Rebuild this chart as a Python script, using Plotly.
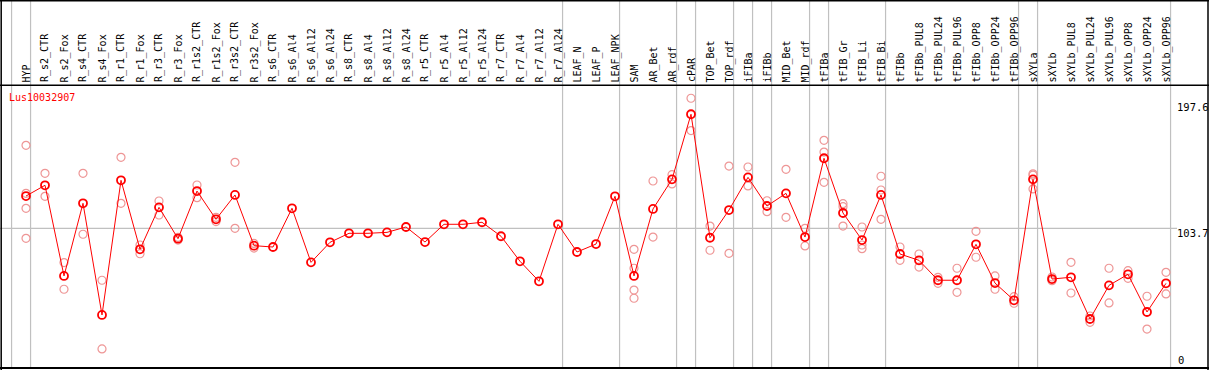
import plotly.graph_objects as go

W, H = 1209, 370

gene_id = "Lus10032907"

samples = ["HYP", "R_s2_CTR", "R_s2_Fox", "R_s4_CTR", "R_s4_Fox", "R_r1_CTR", "R_r1_Fox",
           "R_r3_CTR", "R_r3_Fox", "R_r1s2_CTR", "R_r1s2_Fox", "R_r3s2_CTR", "R_r3s2_Fox",
           "R_s6_CTR", "R_s6_Al4", "R_s6_Al12", "R_s6_Al24", "R_s8_CTR", "R_s8_Al4",
           "R_s8_Al12", "R_s8_Al24", "R_r5_CTR", "R_r5_Al4", "R_r5_Al12", "R_r5_Al24",
           "R_r7_CTR", "R_r7_Al4", "R_r7_Al12", "R_r7_Al24", "LEAF_N", "LEAF_P", "LEAF_NPK",
           "SAM", "AR_Bet", "AR_rdf", "cPAR", "TOP_Bet", "TOP_rdf", "iFIBa", "iFIBb",
           "MID_Bet", "MID_rdf", "tFIBa", "tFIB_Gr", "tFIB_Li", "tFIB_Bi", "tFIBb",
           "tFIBb_PUL8", "tFIBb_PUL24", "tFIBb_PUL96", "tFIBb_OPP8", "tFIBb_OPP24",
           "tFIBb_OPP96", "sXYLa", "sXYLb", "sXYLb_PUL8", "sXYLb_PUL24", "sXYLb_PUL96",
           "sXYLb_OPP8", "sXYLb_OPP24", "sXYLb_OPP96"]

means = [127.7, 135.7, 68.3, 122.3, 39.3, 139.4, 88.1, 119.3, 96.0, 131.4, 110.4, 128.5, 90.8,
         89.8, 118.6, 78.4, 93.3, 100.0, 100.0, 100.7, 104.7, 93.5, 106.7, 106.7, 108.2,
         97.8, 79.2, 64.3, 106.7, 86.1, 92.0, 127.5,
         68.3, 118.1, 140.1, 188.5, 96.7, 117.3, 141.6, 120.3, 129.7, 97.2, 155.8, 115.1,
         95.0, 128.5, 84.6, 79.9, 65.1, 65.1, 91.8, 63.0, 50.2, 140.1, 66.0, 67.3, 36.3,
         61.3, 69.5, 41.5, 62.8]

replicates = [
    [165.4, 129.7, 118.6, 96.3], [144.6, 127.5], [78.2, 58.4], [144.6, 99.3], [65.1, 14.0],
    [156.5, 122.3], [91.3, 84.8], [124.0, 113.6], [97.0, 95.0], [135.9, 126.5],
    [111.9, 108.7], [152.8, 103.7], [92.5, 89.0],
    [], [], [], [], [], [], [], [], [], [], [], [], [], [], [], [], [], [], [],
    [88.1, 74.0, 57.8, 51.7], [138.9, 97.2], [143.6, 136.7], [200.4, 176.4],
    [105.4, 87.4], [150.0, 85.1], [149.3, 135.2], [124.2, 116.1], [147.6, 111.9],
    [103.7, 90.6], [169.1, 160.4, 137.9], [122.0, 119.8, 105.4], [104.7, 91.3, 88.6],
    [142.4, 132.2, 110.4], [89.8, 79.9], [84.6, 74.9], [67.3, 62.8], [74.0, 56.1],
    [101.5, 82.2], [68.3, 58.4], [52.9, 48.0], [144.2, 143.2, 133.0], [67.5, 64.8],
    [78.4, 55.6], [38.5, 33.8], [74.0, 48.2], [72.2, 66.5], [53.2, 28.8], [71.0, 54.9],
]

# group separators drawn just after these sample indices
separators_after = [-1, 0, 28, 31, 34, 35, 37, 38, 39, 41, 42, 45, 52, 53, 60]

y_ticks = [0, 103.7, 197.6]
grid_value = 103.7

# ---- geometry (pixel mapping) ----
col0_px, col_step = 26.0, 19.0
x_lo = -col0_px / col_step
x_hi = (W - col0_px) / col_step
zero_px, px_per_unit = 367.8, 1.345
y_hi = zero_px / px_per_unit
y_lo = (zero_px - H) / px_per_unit


def py(p):
    return 1 - p / H


def px(p):
    return p / W


xs = list(range(len(samples)))
rx, ry = [], []
for i, reps in enumerate(replicates):
    for v in reps:
        rx.append(i)
        ry.append(v)

fig = go.Figure()
fig.add_trace(go.Scatter(x=rx, y=ry, mode="markers",
                         marker=dict(symbol="circle-open", size=8, color="rgb(238,150,150)",
                                     line=dict(width=1.2, color="rgb(238,150,150)")),
                         hoverinfo="skip", showlegend=False))
fig.add_trace(go.Scatter(x=xs, y=means, mode="lines+markers",
                         line=dict(color="#ff0000", width=1),
                         marker=dict(symbol="circle-open", size=8, color="#ff0000",
                                     line=dict(width=1.8, color="#ff0000")),
                         showlegend=False))

shapes = []
for s in separators_after:
    xv = s + 0.24
    shapes.append(dict(type="line", xref="x", yref="paper", x0=xv, x1=xv, y0=py(368), y1=1,
                       line=dict(color="#c0c0c0", width=1.2), layer="below"))
# gridline
shapes.append(dict(type="line", xref="paper", yref="y", x0=0, x1=px(1177), y0=grid_value,
                   y1=grid_value, line=dict(color="#c0c0c0", width=1.2), layer="below"))
# borders
black = dict(color="black", width=1.5)
shapes.append(dict(type="line", xref="paper", yref="paper", x0=px(0), x1=px(1209), y0=py(0.75), y1=py(0.75), line=black))
shapes.append(dict(type="line", xref="paper", yref="paper", x0=px(0), x1=px(1209), y0=py(85.3), y1=py(85.3), line=black))
shapes.append(dict(type="line", xref="paper", yref="paper", x0=px(0), x1=px(1209), y0=py(368), y1=py(368), line=dict(color="black", width=2)))
shapes.append(dict(type="line", xref="paper", yref="paper", x0=px(1.2), x1=px(1.2), y0=py(0), y1=py(370), line=black))
shapes.append(dict(type="line", xref="paper", yref="paper", x0=px(1208), x1=px(1208), y0=py(0), y1=py(370), line=black))

mono = "DejaVu Sans Mono"
annotations = []
for i, lab in enumerate(samples):
    annotations.append(dict(x=i, xref="x", y=py(83.5), yref="paper", text=lab, textangle=-90,
                            showarrow=False, xanchor="center", yanchor="bottom",
                            font=dict(family=mono, size=10, color="black"),
                            borderpad=0))
annotations.append(dict(x=px(8), xref="paper", y=py(97), yref="paper", text=gene_id,
                        showarrow=False, xanchor="left", yanchor="middle",
                        font=dict(family=mono, size=10, color="#ff0000"), borderpad=0))
for t in y_ticks:
    lbl = f"{t:g}"
    if t == 0:
        annotations.append(dict(x=px(1176), xref="paper", y=t, yref="y", text=lbl,
                                showarrow=False, xanchor="left", yanchor="bottom",
                                font=dict(family=mono, size=10.5, color="black"),
                                borderpad=1))
    else:
        annotations.append(dict(x=px(1176), xref="paper", y=t, yref="y", text=lbl,
                                showarrow=False, xanchor="left", yanchor="top",
                                font=dict(family=mono, size=10.5, color="black"),
                                borderpad=0, yshift=2))

fig.update_layout(
    width=W, height=H, margin=dict(l=0, r=0, t=0, b=0),
    paper_bgcolor="white", plot_bgcolor="white",
    xaxis=dict(range=[x_lo, x_hi], showgrid=False, zeroline=False, showticklabels=False,
               showline=False, fixedrange=True),
    yaxis=dict(range=[y_lo, y_hi], showgrid=False, zeroline=False, showticklabels=False,
               showline=False, fixedrange=True),
    shapes=shapes, annotations=annotations,
)

fig.write_html("out.html", config={"displayModeBar": False},
               post_script="document.body.style.margin='0';document.body.style.overflow='hidden';")
